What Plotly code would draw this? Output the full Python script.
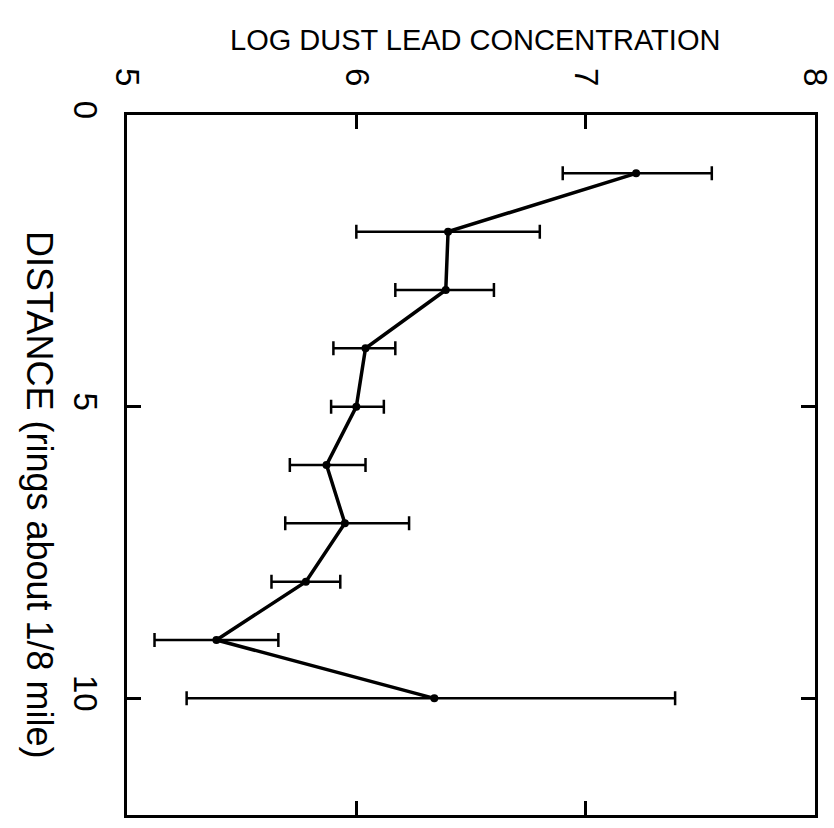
import plotly.graph_objects as go

distance = [1, 2, 3, 4, 5, 6, 7, 8, 9, 10]
log_lead = [7.22, 6.40, 6.39, 6.04, 6.00, 5.87, 5.95, 5.78, 5.39, 6.34]
ci_low = [6.90, 6.00, 6.17, 5.90, 5.89, 5.71, 5.69, 5.63, 5.12, 5.26]
ci_high = [7.55, 6.80, 6.60, 6.17, 6.12, 6.04, 6.23, 5.93, 5.66, 7.39]

conc_ticks = [5, 6, 7, 8]
dist_ticks = [0, 5, 10]

err_plus = [h - m for h, m in zip(ci_high, log_lead)]
err_minus = [m - l for m, l in zip(log_lead, ci_low)]

fig = go.Figure()
fig.add_trace(go.Scatter(
    x=log_lead, y=distance, mode="lines+markers",
    line=dict(color="black", width=3.5),
    marker=dict(color="black", size=8),
    error_x=dict(type="data", symmetric=False, array=err_plus, arrayminus=err_minus,
                 color="black", thickness=2.5, width=7),
    showlegend=False,
))

font_main = "Liberation Sans, Arial, sans-serif"

fig.update_layout(
    width=834, height=828,
    margin=dict(l=127, r=19, t=115, b=13, autoexpand=False),
    paper_bgcolor="white", plot_bgcolor="white",
    font=dict(family=font_main, color="black"),
    xaxis=dict(
        range=[5, 8], side="top", tickvals=conc_ticks, ticktext=[str(v) for v in conc_ticks],
        tickangle=90, ticks="inside", ticklen=14, tickwidth=2.5, tickcolor="black",
        showline=True, linewidth=3, linecolor="black", mirror="ticks",
        showgrid=False, zeroline=False, tickfont=dict(size=33),
        ticklabelstandoff=14, ticklabeloverflow="allow", automargin=False,
    ),
    yaxis=dict(
        range=[12, 0], tickvals=dist_ticks, ticktext=[str(v) for v in dist_ticks],
        tickangle=90, ticks="inside", ticklen=14, tickwidth=2.5, tickcolor="black",
        showline=True, linewidth=3, linecolor="black", mirror="ticks",
        showgrid=False, zeroline=False, tickfont=dict(size=33),
        ticklabelstandoff=10, ticklabeloverflow="allow", automargin=False,
    ),
    annotations=[
        dict(text="LOG DUST LEAD CONCENTRATION", xref="paper", yref="paper",
             x=0.506, y=1.0, yshift=75, xanchor="center", yanchor="middle",
             showarrow=False, font=dict(size=29)),
        dict(text="DISTANCE (rings about 1/8 mile)", xref="paper", yref="paper",
             x=0.0, xshift=-87, y=0.457, xanchor="center", yanchor="middle",
             textangle=90, showarrow=False, font=dict(size=36)),
    ],
)

fig.write_html("out.html")
